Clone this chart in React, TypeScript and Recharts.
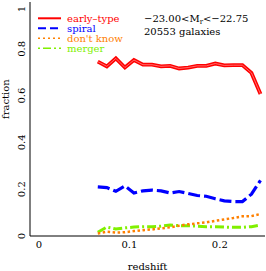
import { LineChart, Line, XAxis, YAxis } from "recharts";

const redshift = [0.065, 0.075, 0.085, 0.095, 0.105, 0.115, 0.125, 0.135, 0.145, 0.155, 0.165, 0.175, 0.185, 0.195, 0.205, 0.215, 0.225, 0.235, 0.245];
const earlyType = [0.745, 0.725, 0.759, 0.72, 0.752, 0.732, 0.732, 0.725, 0.727, 0.716, 0.72, 0.727, 0.727, 0.737, 0.729, 0.73, 0.73, 0.697, 0.607];
const spiral = [0.21, 0.207, 0.191, 0.214, 0.184, 0.193, 0.196, 0.193, 0.184, 0.19, 0.182, 0.173, 0.17, 0.159, 0.15, 0.147, 0.147, 0.179, 0.238];
const dontKnow = [0.011, 0.018, 0.015, 0.016, 0.021, 0.025, 0.028, 0.033, 0.037, 0.044, 0.05, 0.054, 0.058, 0.065, 0.071, 0.077, 0.084, 0.085, 0.094];
const merger = [0.016, 0.038, 0.03, 0.035, 0.038, 0.04, 0.04, 0.042, 0.047, 0.044, 0.044, 0.042, 0.04, 0.04, 0.038, 0.037, 0.037, 0.04, 0.047];

const xTicks = [0, 0.1, 0.2];
const xMinorTicks = [0, 0.02, 0.04, 0.06, 0.08, 0.1, 0.12, 0.14, 0.16, 0.18, 0.2, 0.22, 0.24];
const yTicks = [0, 0.2, 0.4, 0.6, 0.8, 1];
const yMinorTicks = [0, 0.1, 0.2, 0.3, 0.4, 0.5, 0.6, 0.7, 0.8, 0.9, 1];

const data = redshift.map((z, i) => ({ z, early: earlyType[i], spiral: spiral[i], dontKnow: dontKnow[i], merger: merger[i] }));

const FONT = "'DejaVu Serif', serif";
const RED = "#ff0000";
const BLUE = "#0000ff";
const ORANGE = "#ff8000";
const GREEN = "#80f000";

const legend = [
  { label: "early\u2013type", color: RED, dash: undefined, width: 2 },
  { label: "spiral", color: BLUE, dash: "8 4", width: 2 },
  { label: "don't know", color: ORANGE, dash: "2 3", width: 1.5 },
  { label: "merger", color: GREEN, dash: "2 3 8 3", width: 1.5 },
];

const noLabel = () => "";

function YTick({ x, y, payload }: any) {
  return (
    <text x={x} y={y} transform={`rotate(-90, ${x}, ${y})`} textAnchor="middle" fontSize={10} fontFamily={FONT} fill="#000">
      {String(payload.value)}
    </text>
  );
}

export default function App() {
  const dom: [number, number] = [-0.01, 0.25];
  return (
    <div style={{ position: "absolute", left: 0, top: 0, width: 266, height: 271, background: "#fff" }}>
      <LineChart width={266} height={271} data={data} margin={{ top: 2, right: 1, bottom: 0, left: 0 }}>
        <XAxis xAxisId="x" dataKey="z" type="number" domain={dom} allowDataOverflow ticks={xTicks} height={35}
          axisLine={{ stroke: "#000" }} tickLine={false} tickSize={3} tickMargin={2}
          tick={{ fontSize: 10, fontFamily: FONT, fill: "#000" }}
          label={{ value: "redshift", position: "insideBottom", offset: 1, fontSize: 10, fontFamily: FONT, fill: "#000" }} />
        <XAxis xAxisId="xMaj" dataKey="z" type="number" domain={dom} allowDataOverflow ticks={xTicks} orientation="bottom" mirror height={0}
          axisLine={false} tickSize={5} tickLine={{ stroke: "#000" }} tickFormatter={noLabel} />
        <XAxis xAxisId="xMin" dataKey="z" type="number" domain={dom} allowDataOverflow ticks={xMinorTicks} orientation="bottom" mirror height={0}
          axisLine={false} tickSize={2.5} tickLine={{ stroke: "#000" }} tickFormatter={noLabel} />
        <XAxis xAxisId="xTopMaj" dataKey="z" type="number" domain={dom} allowDataOverflow ticks={xTicks} orientation="top" mirror height={0}
          axisLine={{ stroke: "#000" }} tickSize={5} tickLine={{ stroke: "#000" }} tickFormatter={noLabel} />
        <XAxis xAxisId="xTopMin" dataKey="z" type="number" domain={dom} allowDataOverflow ticks={xMinorTicks} orientation="top" mirror height={0}
          axisLine={false} tickSize={2.5} tickLine={{ stroke: "#000" }} tickFormatter={noLabel} />

        <YAxis yAxisId="y" type="number" domain={[0, 1]} ticks={yTicks} width={30}
          axisLine={{ stroke: "#000" }} tickLine={false} tickSize={3} tickMargin={2} tick={<YTick />}
          label={{ value: "fraction", angle: -90, position: "insideLeft", offset: 5, fontSize: 10, fontFamily: FONT, fill: "#000" }} />
        <YAxis yAxisId="yMaj" type="number" domain={[0, 1]} ticks={yTicks} orientation="left" mirror width={0}
          axisLine={false} tickSize={5} tickLine={{ stroke: "#000" }} tickFormatter={noLabel} />
        <YAxis yAxisId="yMin" type="number" domain={[0, 1]} ticks={yMinorTicks} orientation="left" mirror width={0}
          axisLine={false} tickSize={2.5} tickLine={{ stroke: "#000" }} tickFormatter={noLabel} />
        <YAxis yAxisId="yRMaj" type="number" domain={[0, 1]} ticks={yTicks} orientation="right" mirror width={0}
          axisLine={{ stroke: "#000" }} tickSize={5} tickLine={{ stroke: "#000" }} tickFormatter={noLabel} />
        <YAxis yAxisId="yRMin" type="number" domain={[0, 1]} ticks={yMinorTicks} orientation="right" mirror width={0}
          axisLine={false} tickSize={2.5} tickLine={{ stroke: "#000" }} tickFormatter={noLabel} />

        <Line xAxisId="x" yAxisId="y" dataKey="merger" type="linear" stroke={GREEN} strokeWidth={3} strokeDasharray="9 3 2 3" dot={false} isAnimationActive={false} />
        <Line xAxisId="x" yAxisId="y" dataKey="dontKnow" type="linear" stroke={ORANGE} strokeWidth={2.5} strokeDasharray="2.5 2.5" dot={false} isAnimationActive={false} />
        <Line xAxisId="x" yAxisId="y" dataKey="spiral" type="linear" stroke={BLUE} strokeWidth={3.2} strokeDasharray="12 4" dot={false} isAnimationActive={false} />
        <Line xAxisId="x" yAxisId="y" dataKey="early" type="linear" stroke={RED} strokeWidth={3.8} dot={false} isAnimationActive={false} />
        <Line xAxisId="x" yAxisId="y" dataKey="early" type="linear" stroke="#ff9a9a" strokeWidth={0.7} dot={false} isAnimationActive={false} />
      </LineChart>

      <svg width={266} height={60} style={{ position: "absolute", left: 0, top: 0, pointerEvents: "none" }}>
        {legend.map((item, i) => (
          <g key={item.label}>
            <line x1={38} x2={61} y1={18.3 + i * 10} y2={18.3 + i * 10} stroke={item.color} strokeWidth={item.width} strokeDasharray={item.dash} />
            <text x={67} y={21.8 + i * 10} fontSize={10} fontFamily={FONT} fill={item.color}>{item.label}</text>
          </g>
        ))}
        <text x={144} y={21.5} fontSize={10} fontFamily={FONT} fill="#000">
          {"\u221223.00<M"}
          <tspan fontSize={7} dy={2}>r</tspan>
          <tspan dy={-2}>{"<\u221222.75"}</tspan>
        </text>
        <text x={144} y={35} fontSize={10} fontFamily={FONT} fill="#000">20553 galaxies</text>
      </svg>
    </div>
  );
}
